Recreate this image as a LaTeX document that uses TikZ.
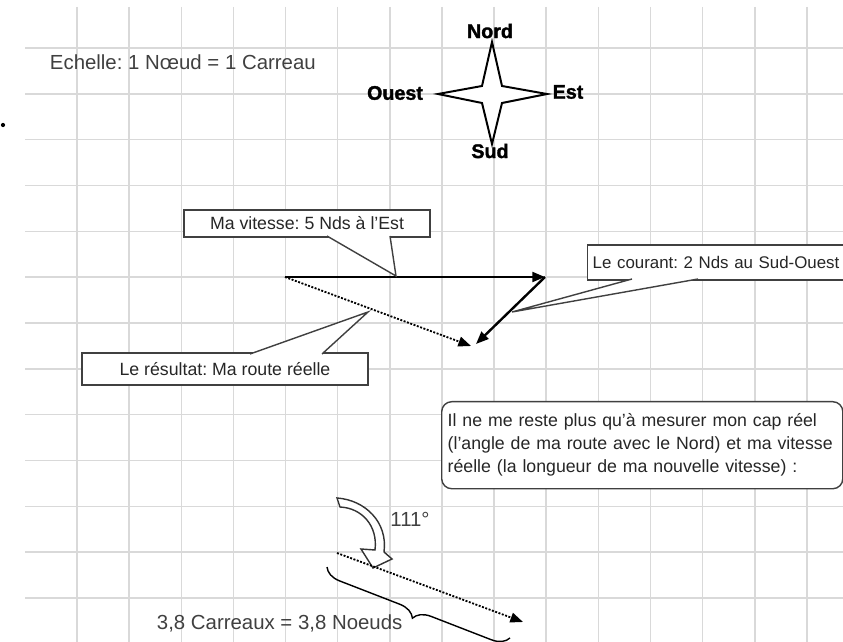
\documentclass[tikz,border=0pt]{standalone}
\usepackage{fontspec}
\setmainfont{Liberation Sans}
\newfontfamily\heavyfont{Liberation Sans}[BoldFeatures={FakeBold=1.6}]
\usetikzlibrary{arrows.meta,decorations.pathreplacing}
\frenchspacing

\begin{document}
\begin{tikzpicture}[x=0.025cm,y=-0.025cm,
	gridline/.style={line width=1.1pt,black!15},
	vect/.style={line width=1.7pt,-{Triangle[length=9pt,width=7pt]}},
	resvect/.style={line width=1.3pt,dash pattern=on 1.4pt off 1.1pt,-{Triangle[length=9pt,width=7pt]}},
	bubble/.style={draw=black!75,line width=1pt,fill=white,inner sep=0pt,text=black!85,font=\fontsize{12.6}{15}\selectfont},
	wedge/.style={draw=black!75,line width=1pt,fill=white},
	cardinal/.style={font=\fontsize{14}{16}\selectfont\heavyfont\bfseries},
	plain/.style={text=black!75,font=\fontsize{14.5}{17}\selectfont}]
	\useasboundingbox (0,0) rectangle (843,642);
	\clip (0,0) rectangle (843,642);
	\foreach \i in {0,...,14}
		\draw[gridline] ({77+52.14*\i},7) -- ({77+52.14*\i},642);
	\foreach \j in {0,...,12}
		\draw[gridline] (25,{48+45.83*\j}) -- (843,{48+45.83*\j});
	\fill (3,125) circle (1.5pt);
	\node[plain,anchor=west] (echelle) at (45,62) {Echelle: 1 Nœud = 1 Carreau};
	% rose des vents
	\draw[line width=1.4pt,fill=white] (492,42) -- (502,86) -- (547,94) -- (502,103) -- (492,144) -- (482,103) -- (438,94) -- (482,86) -- cycle;
	\node[cardinal] (nord) at (490,31) {Nord};
	\node[cardinal] (sud) at (490,151) {Sud};
	\node[cardinal] (ouest) at (395,93) {Ouest};
	\node[cardinal] (est) at (568,92) {Est};
	% vecteurs
	\coordinate (depart) at (285,277);
	\coordinate (E) at (545,277);
	\coordinate (SO) at (476,344);
	\coordinate (arrivee) at (471,346);
	\draw[vect] (depart) -- (E);
	\draw[vect] (E) -- (SO);
	\draw[resvect] (depart) -- (arrivee);
	\node[bubble,minimum width=6.15cm,minimum height=0.675cm] (vitesse) at (307,223.5) {Ma vitesse: 5 Nds à l'Est};
	\path[wedge] (327,236) -- (396,276) -- (390,236);
	\node[bubble,minimum width=7.15cm,minimum height=0.8cm] (resultat) at (225,369) {Le résultat: Ma route réelle};
	\path[wedge] (250,354) -- (368,312) -- (322,354);
	\node[bubble,anchor=west,inner xsep=0.125cm,text width=7.25cm,align=left,minimum height=0.875cm,font=\fontsize{12}{15}\selectfont] (courant) at (587,262.5) {Le courant: 2 Nds au Sud-Ouest};
	\path[wedge] (632,279) -- (512,312) -- (698,279);
	\node[bubble,rounded corners=0.25cm,anchor=north west,minimum width=10.025cm,minimum height=2.175cm,text width=9.725cm,inner xsep=0.15cm,align=left,font=\fontsize{12.6}{16.4}\selectfont] (cap) at (441,401) {Il ne me reste plus qu'à mesurer mon cap réel\\(l'angle de ma route avec le Nord) et ma vitesse\\réelle (la longueur de ma nouvelle vitesse) :};
	% mesure
	\draw[line width=1pt,draw=black!80,fill=white] (337,498) .. controls (365,500) and (388,522) .. (384,552) -- (392,559) -- (373,568) -- (361,549) -- (375,550) .. controls (378,526) and (362,508) .. (340,507) -- cycle;
	\node[plain] (angle) at (410,519) {111°};
	\coordinate (route0) at (337,553);
	\coordinate (route1) at (523,622);
	\draw[resvect] (route0) -- (route1);
	\draw[line width=1pt,decorate,decoration={brace,amplitude=0.42cm}] (510,638) -- (327,567);
	\node[plain,anchor=west] (longueur) at (152,623) {3,8 Carreaux = 3,8 Noeuds};
\end{tikzpicture}
\end{document}
